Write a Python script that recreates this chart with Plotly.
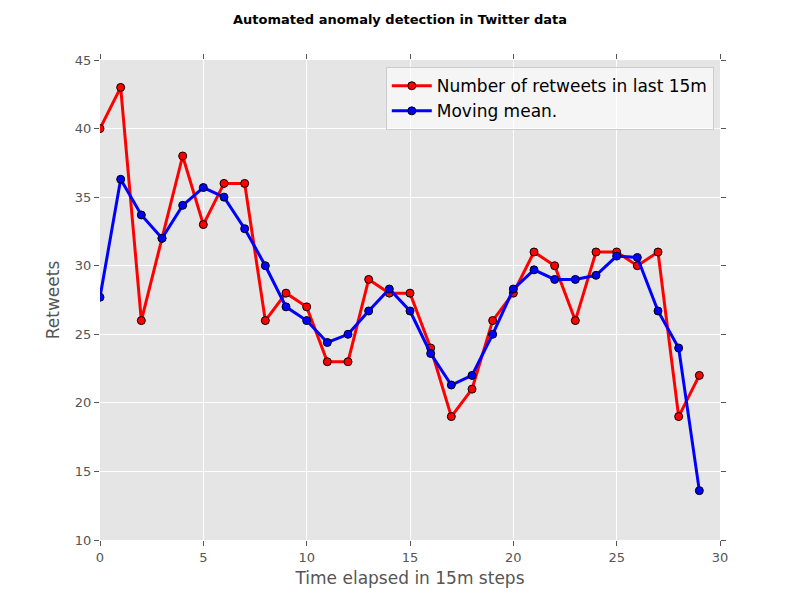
import plotly.graph_objects as go

x = list(range(30))
retweets = [40,43,26,32,38,33,36,36,26,28,27,23,23,29,28,28,24,19,21,26,28,31,30,26,31,31,30,31,19,22]
moving_mean = [27.7,36.3,33.7,32,34.4,35.7,35,32.7,30,27,26,24.4,25,26.7,28.3,26.7,23.6,21.3,22,25,28.3,29.7,29,29,29.3,30.7,30.6,26.7,24,13.6]

fig = go.Figure()
fig.add_trace(go.Scatter(x=x, y=retweets, mode="lines+markers", name="Number of retweets in last 15m",
    line=dict(color="red", width=3), marker=dict(color="red", size=8, line=dict(color="black", width=1))))
fig.add_trace(go.Scatter(x=x, y=moving_mean, mode="lines+markers", name="Moving mean.",
    line=dict(color="blue", width=3), marker=dict(color="blue", size=8, line=dict(color="black", width=1))))

ax = dict(showgrid=True, gridcolor="white", gridwidth=1, zeroline=False, ticks="outside",
          mirror="ticks", showline=False, tickcolor="#555", ticklen=5, tickfont=dict(size=13, color="#555"))
fig.update_layout(
    width=800, height=600, autosize=False,
    margin=dict(l=92, r=88, t=52, b=68),
    paper_bgcolor="white", plot_bgcolor="#e5e5e5",
    font=dict(family="DejaVu Sans", color="#555"),
    title=dict(text="<b>Automated anomaly detection in Twitter data</b>", x=0.49, xanchor="center",
               y=0.988, yanchor="top", font=dict(size=13, color="black")),
    xaxis=dict(ax, range=[0, 30], dtick=5, title=dict(text="Time elapsed in 15m steps", font=dict(size=17, color="#555"), standoff=8)),
    yaxis=dict(ax, range=[10, 45], dtick=5, title=dict(text="Retweets", font=dict(size=17, color="#555"), standoff=10)),
    legend=dict(x=0.99, y=0.985, xanchor="right", yanchor="top", bgcolor="rgba(255,255,255,0.6)",
                bordercolor="#ccc", borderwidth=1, font=dict(size=17, color="black"), itemwidth=40),
)
fig.write_html("out.html")
